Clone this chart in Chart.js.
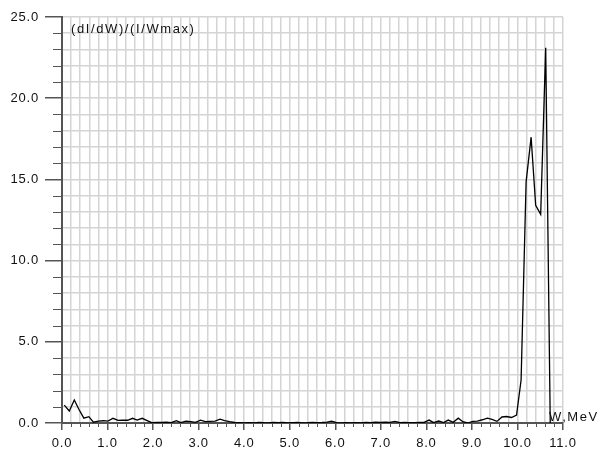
<!DOCTYPE html>
<html>
<head>
<meta charset="utf-8">
<script src="https://cdn.jsdelivr.net/npm/chart.js@4/dist/chart.umd.min.js"></script>
<style>
	html, body { margin: 0; padding: 0; background: #fff; }
</style>
</head>
<body>
<canvas id="myChart" width="600" height="454"></canvas>
<script>
// energy bins, MeV
let energy = [
	0.05, 0.16, 0.27, 0.37, 0.48, 0.59, 0.69, 0.80, 0.91, 1.01,
	1.12, 1.23, 1.33, 1.44, 1.55, 1.65, 1.76, 1.87, 1.97, 2.08,
	2.19, 2.29, 2.40, 2.51, 2.61, 2.72, 2.83, 2.93, 3.04, 3.15,
	3.25, 3.36, 3.47, 3.57, 3.68, 3.79, 3.89, 4.00, 4.11, 4.21,
	4.32, 4.43, 4.53, 4.64, 4.75, 4.85, 4.96, 5.07, 5.17, 5.28,
	5.39, 5.50, 5.60, 5.71, 5.82, 5.92, 6.03, 6.14, 6.24, 6.35,
	6.46, 6.56, 6.67, 6.78, 6.88, 6.99, 7.10, 7.20, 7.31, 7.42,
	7.52, 7.63, 7.74, 7.84, 7.95, 8.06, 8.16, 8.27, 8.38, 8.48,
	8.59, 8.70, 8.80, 8.91, 9.02, 9.12, 9.23, 9.34, 9.44, 9.55,
	9.66, 9.76, 9.87, 9.98, 10.08, 10.19, 10.30, 10.40, 10.51, 10.62,
	10.72,
]
// (dI/dW)/(I/Wmax)
let intensity = [
	1.10, 0.74, 1.42, 0.85, 0.30, 0.39, 0.05, 0.12, 0.14, 0.12,
	0.29, 0.16, 0.18, 0.17, 0.29, 0.18, 0.29, 0.15, 0.02, 0.04,
	0.04, 0.05, 0.02, 0.14, 0.02, 0.12, 0.08, 0.04, 0.18, 0.08,
	0.10, 0.12, 0.24, 0.15, 0.08, 0.03, 0.02, 0.00, 0.02, 0.01,
	0.04, 0.02, 0.01, 0.03, 0.02, 0.04, 0.01, 0.02, 0.03, 0.01,
	0.02, 0.04, 0.02, 0.03, 0.06, 0.12, 0.02, 0.01, 0.02, 0.00,
	0.02, 0.01, 0.03, 0.02, 0.05, 0.03, 0.05, 0.04, 0.10, 0.02,
	0.03, 0.02, 0.02, 0.03, 0.04, 0.18, 0.02, 0.12, 0.03, 0.18,
	0.04, 0.30, 0.08, 0.00, 0.10, 0.12, 0.20, 0.30, 0.22, 0.10,
	0.37, 0.40, 0.34, 0.49, 2.65, 14.85, 17.60, 13.40, 12.85, 23.10,
	0.00,
]

let xMajor = [0, 1, 2, 3, 4, 5, 6, 7, 8, 9, 10, 11]
let yMajor = [0, 5, 10, 15, 20, 25]
let yTitle = '(dI/dW)/(I/Wmax)'
let xTitle = 'W,MeV'

function isMajor(list, v) {
	return list.some((m) => Math.abs(m - v) < 1e-6)
}

let axisExtras = {
	id: 'axisExtras',
	beforeDraw(chart) {
		chart.ctx.letterSpacing = '0.8px'
	},
	afterDraw(chart) {
		let ctx = chart.ctx
		let sx = chart.scales.x
		let sy = chart.scales.y
		ctx.save()
		ctx.letterSpacing = '0px'
		ctx.strokeStyle = '#555'
		ctx.lineWidth = 1
		ctx.beginPath()
		sx.ticks.forEach((t) => {
			if (isMajor(xMajor, t.value)) return
			let px = Math.round(sx.getPixelForValue(t.value)) + 0.5
			ctx.moveTo(px, sx.top)
			ctx.lineTo(px, sx.top + 4)
		})
		sy.ticks.forEach((t) => {
			if (isMajor(yMajor, t.value)) return
			let py = Math.round(sy.getPixelForValue(t.value)) + 0.5
			ctx.moveTo(sy.right, py)
			ctx.lineTo(sy.right - 9, py)
		})
		ctx.stroke()

		ctx.fillStyle = '#111'
		ctx.font = '13px Arial'
		ctx.letterSpacing = '1.6px'
		ctx.textBaseline = 'middle'
		ctx.textAlign = 'left'
		ctx.fillText(yTitle, chart.chartArea.left + 9, chart.chartArea.top + 12)
		ctx.fillText(xTitle, 549, 417)
		ctx.restore()
	},
}

var ctx = document.getElementById('myChart').getContext('2d')
var myChart = new Chart(ctx, {
	type: 'line',
	data: {
		datasets: [
			{
				data: energy.map((e, i) => ({ x: e, y: intensity[i] })),
				borderColor: '#000',
				borderWidth: 1.3,
				pointRadius: 0,
				tension: 0,
				fill: false,
			},
		],
	},
	options: {
		responsive: false,
		animation: false,
		layout: { padding: { top: 17, right: 37, left: 0, bottom: 0 } },
		plugins: { legend: { display: false }, tooltip: { enabled: false } },
		scales: {
			x: {
				type: 'linear',
				min: 0,
				max: 11,
				afterFit: (s) => { s.height = 31 },
				border: { color: '#555', width: 2 },
				grid: {
					color: '#d4d4d4',
					lineWidth: 1.5,
					tickLength: 7,
					tickColor: (c) => (c.tick && isMajor(xMajor, c.tick.value) ? '#555' : 'rgba(0,0,0,0)'),
				},
				ticks: {
					stepSize: 0.2,
					autoSkip: false,
					maxRotation: 0,
					padding: 6,
					color: '#111',
					font: { family: 'Arial', size: 13 },
					callback: (v) => (isMajor(xMajor, v) ? v.toFixed(1) : ''),
				},
			},
			y: {
				min: 0,
				max: 25,
				afterFit: (s) => { s.width = 62 },
				border: { color: '#555', width: 2 },
				grid: {
					color: '#d4d4d4',
					lineWidth: 1.5,
					tickLength: 17,
					tickColor: (c) => (c.tick && isMajor(yMajor, c.tick.value) ? '#555' : 'rgba(0,0,0,0)'),
				},
				ticks: {
					stepSize: 1,
					autoSkip: false,
					padding: 6,
					color: '#111',
					font: { family: 'Arial', size: 13 },
					callback: (v) => (isMajor(yMajor, v) ? v.toFixed(1) : ''),
				},
			},
		},
	},
	plugins: [axisExtras],
})
</script>
</body>
</html>
